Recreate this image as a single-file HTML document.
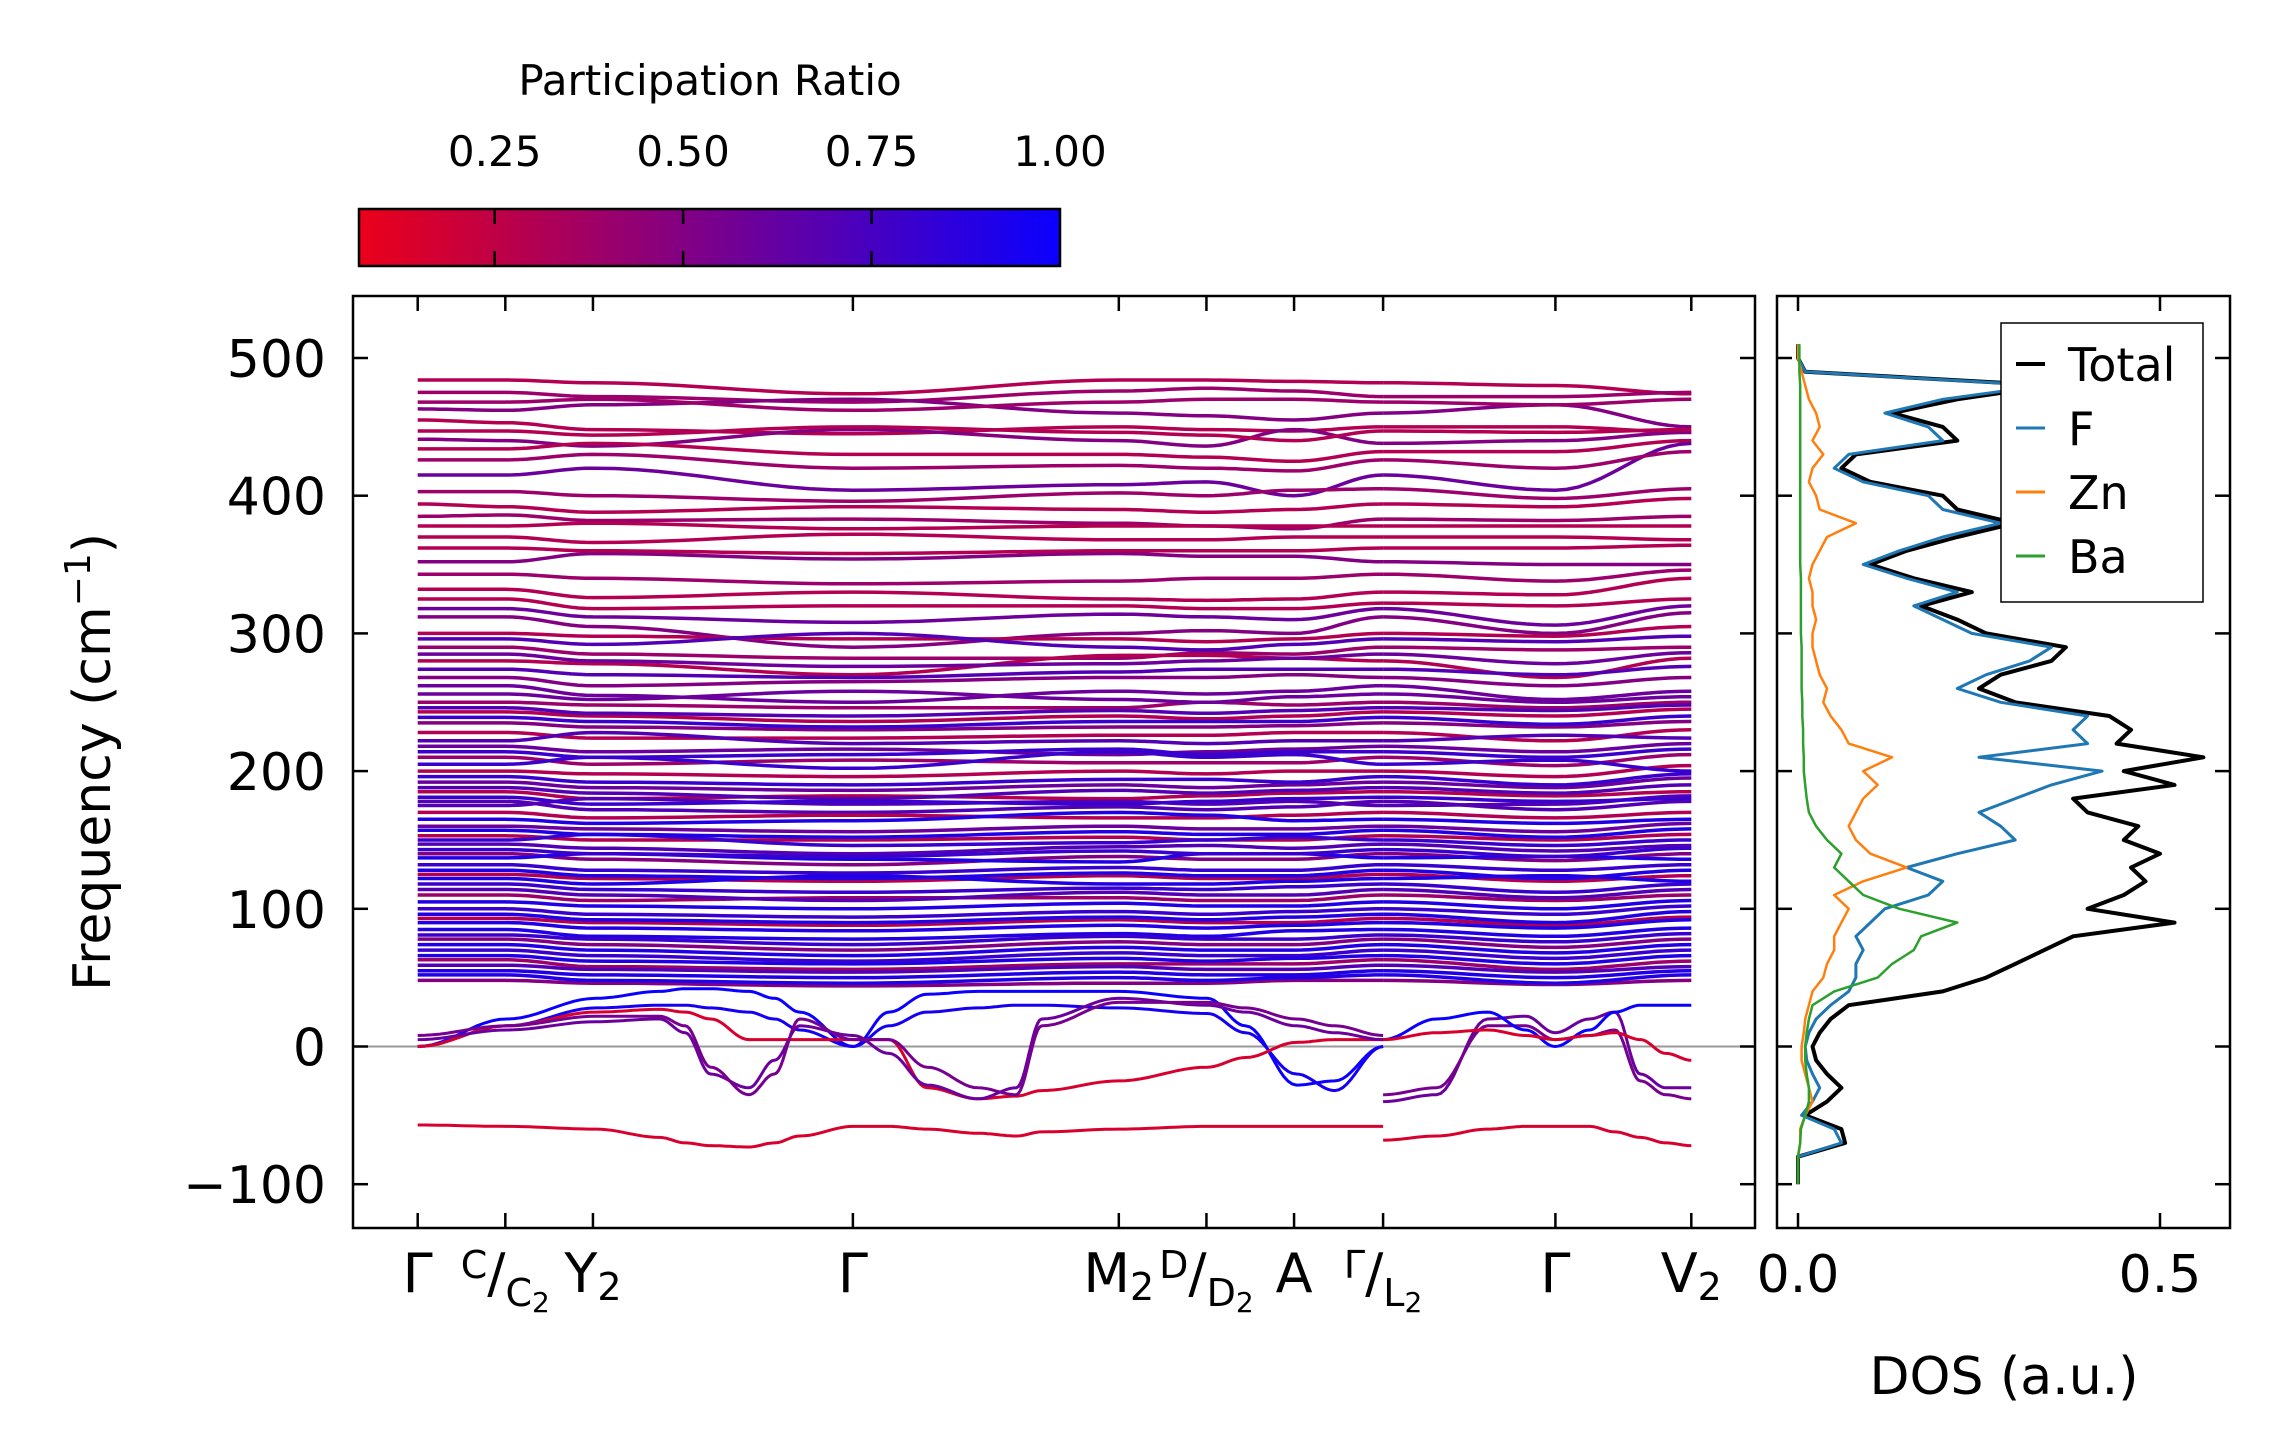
<!DOCTYPE html>
<html><head><meta charset="utf-8"><style>
html,body{margin:0;padding:0;background:#fff;}
svg{display:block;font-family:"DejaVu Sans","Liberation Sans",sans-serif;}
</style></head><body>
<svg id="fig" width="2271" height="1455" viewBox="0 0 2271 1455" xmlns="http://www.w3.org/2000/svg">
<defs>
<linearGradient id="cbgrad" x1="0" x2="1" y1="0" y2="0">
<stop offset="0" stop-color="rgb(235,0,25)"/>
<stop offset="0.5" stop-color="rgb(122,0,140)"/>
<stop offset="1" stop-color="rgb(10,0,255)"/>
</linearGradient>
<clipPath id="mainclip"><rect x="353" y="296" width="1402" height="932"/></clipPath>
<clipPath id="dosclip"><rect x="1777" y="296" width="453" height="932"/></clipPath>
</defs>
<g id="bands" clip-path="url(#mainclip)"></g>
<g id="dos" clip-path="url(#dosclip)"></g>
<g id="axes"></g>
</svg>
<script>
const kNodes = [0, 0.0688, 0.1376, 0.3417, 0.5505, 0.6193, 0.6881, 0.7580, 0.8933, 1.0];
const kLabels = ["Γ", "C/C2", "Y2", "Γ", "M2", "D/D2", "A", "Γ/L2", "Γ", "V2"];
const yTicks = [-100, 0, 100, 200, 300, 400, 500];
const cbTicks = [0.25, 0.50, 0.75, 1.00];
const cbTickLabels = ["0.25", "0.50", "0.75", "1.00"];
const bandPR = [0.3,0.4,0.5,0.3,0.5,0.3,0.6,0.4,0.3,0.4,0.3,0.3,0.5,0.3,0.3,0.5,0.3,0.4,0.3,0.5,0.6,0.4,0.3,0.5,0.3,0.6,0.4,0.3,0.6,0.3,0.7,0.3,0.6,0.3,0.7,0.5,0.8,0.3,0.8,0.4,0.8,0.3,0.9,0.5,0.8,0.4,0.9,0.5,0.7,0.8,0.7,0.9,0.8,0.9,0.9,0.9,0.9,0.9,
0.6,0.7,0.6,0.7,0.6,0.7,0.8,0.8,0.8,0.7,0.8,0.9,0.8,0.9,0.7,0.9,0.8,0.9,0.7,0.9,0.4,0.3,0.4,0.3,0.4];
const bandFreq = [
[484,484,482,474,484,484,483,482,480,474],
[475,475,472,468,476,478,476,472,472,475],
[463,462,466,470,460,458,455,460,466,450],
[455,453,448,445,450,448,447,450,450,446],
[441,440,436,448,440,436,448,438,440,446],
[434,434,438,430,430,428,425,432,432,440],
[415,415,420,404,408,410,400,415,404,438],
[403,403,400,396,402,400,404,405,398,405],
[394,392,388,392,390,388,390,394,392,398],
[385,386,382,383,380,378,376,383,382,385],
[378,378,380,376,378,378,378,378,378,378],
[370,370,366,372,368,368,370,370,370,368],
[352,352,358,354,358,356,356,352,350,350],
[332,332,326,330,325,324,325,330,328,340],
[325,325,318,320,320,318,318,322,320,325],
[312,312,305,290,300,302,300,312,300,315],
[300,300,298,296,296,294,296,300,298,305],
[290,290,285,282,282,286,285,290,288,290],
[280,280,278,270,284,284,282,280,268,282],
[268,268,262,265,268,268,270,268,262,268],
[262,262,255,250,258,256,258,262,252,258],
[250,250,248,246,246,250,248,250,246,250],
[243,243,240,236,240,238,240,243,240,245],
[235,235,232,230,232,232,233,235,232,236],
[228,228,224,224,226,226,228,228,222,230],
[218,218,214,216,212,214,216,218,214,220],
[210,210,205,208,206,206,206,210,204,212],
[200,200,198,196,200,198,200,200,196,204],
[192,192,188,186,190,188,190,192,188,195],
[185,185,180,182,180,182,184,185,182,185],
[178,178,172,170,174,172,174,178,172,178],
[170,170,166,168,166,166,168,170,166,170],
[160,160,158,156,160,158,158,160,156,162],
[153,153,150,150,152,150,150,153,150,154],
[147,147,144,140,145,146,144,147,142,146],
[140,140,136,132,138,136,136,140,135,140],
[132,132,128,126,130,128,128,132,128,132],
[125,125,122,120,124,122,122,125,120,124],
[118,118,114,112,115,114,116,118,112,118],
[110,110,106,108,108,106,106,110,106,110],
[100,100,96,94,98,96,98,100,96,102],
[93,93,90,88,92,90,90,93,88,94],
[85,85,80,78,82,80,84,85,80,86],
[78,78,74,70,76,74,74,78,72,78],
[70,70,66,62,68,66,66,70,64,70],
[63,63,58,56,60,60,60,63,56,62],
[55,55,52,50,54,52,52,55,50,55],
[48,48,46,44,46,46,48,48,45,48],
[222,222,228,220,222,220,222,222,226,224],
[205,205,210,202,214,210,212,205,208,200],
[175,175,180,176,178,176,178,175,176,182],
[165,165,162,164,170,168,164,165,162,165],
[150,150,154,146,148,150,152,150,146,150],
[137,137,140,136,134,140,140,137,138,136],
[122,122,118,124,118,118,120,122,124,120],
[105,105,102,100,104,102,102,105,100,106],
[90,90,86,84,88,86,88,90,86,92],
[74,74,70,66,72,70,70,74,68,74],
[318,318,312,308,314,312,310,318,306,320],
[296,296,292,300,290,288,292,296,294,298],
[285,285,280,276,278,280,282,285,278,286],
[274,274,270,268,272,274,274,274,270,276],
[256,256,252,258,252,250,254,256,250,254],
[246,246,242,240,244,242,244,246,244,248],
[239,239,236,232,236,236,236,239,234,240],
[214,214,210,212,216,212,214,214,210,216],
[196,196,192,190,194,194,192,196,190,198],
[188,188,184,180,186,184,186,188,184,190],
[181,181,176,178,176,178,180,181,178,180],
[157,157,154,152,156,154,154,157,152,158],
[143,143,140,138,142,140,140,143,138,144],
[128,128,124,122,126,124,124,128,122,128],
[114,114,110,106,112,110,110,114,108,114],
[96,96,92,90,94,92,94,96,90,98],
[81,81,78,74,80,78,78,81,76,82],
[66,66,62,60,64,62,64,66,60,66],
[59,59,56,54,58,56,56,59,54,58],
[52,52,48,46,50,48,50,52,46,52],
[343,343,340,336,338,340,340,343,338,346],
[362,362,360,358,360,360,360,362,362,364],
[426,426,430,420,422,420,418,426,420,432],
[447,447,444,450,446,444,440,447,446,448],
[468,468,470,462,468,470,470,468,466,470]
];
const lowK1 = [0,0.07,0.14,0.19,0.21,0.23,0.26,0.28,0.30,0.342,0.37,0.40,0.44,0.47,0.49,0.55,0.62,0.65,0.69,0.72,0.758];
const lowPR1 = [1.0, 0.95, 0.15, 0.6, 0.55, 0.15];
const lowFreq1 = [
[0,20,35,40,42,42,40,35,25,0,25,38,40,40,40,40,35,15,-28,-25,0],
[0,15,28,30,30,28,25,20,12,0,15,25,28,30,30,28,24,10,-20,-32,0],
[0,15,25,27,25,20,5,5,5,5,5,-30,-38,-36,-32,-25,-15,-8,3,5,5],
[5,12,18,20,10,-20,-30,-10,15,8,-5,-28,-38,-30,20,35,30,25,15,10,5],
[8,15,22,22,15,-15,-35,-20,20,5,5,-15,-30,-35,15,32,32,28,20,15,8],
[-57,-58,-60,-66,-70,-72,-73,-70,-65,-58,-58,-60,-63,-65,-62,-60,-58,-58,-58,-58,-58]
];
const lowK2 = [0.758,0.80,0.84,0.87,0.893,0.92,0.94,0.96,0.98,1.0];
const lowPR2 = [0.15, 0.6, 0.55, 1.0, 0.15];
const lowFreq2 = [
[-68,-65,-60,-58,-58,-58,-62,-66,-70,-72],
[-40,-35,20,22,10,20,25,-20,-30,-30],
[-35,-30,15,15,5,8,12,-25,-35,-38],
[5,20,25,12,0,12,25,30,30,30],
[5,10,12,8,5,8,10,5,-5,-10]
];
const dosFreq = [-100,-90,-80,-70,-60,-50,-40,-30,-20,-10,0,10,20,30,40,50,60,70,80,90,100,110,120,130,140,150,160,170,180,190,200,210,220,230,240,250,260,270,280,290,300,310,320,330,340,350,360,370,380,390,400,410,420,430,440,450,460,470,480,490,500,510];
const dosTotal = [0,0,0,0.065,0.06,0.01,0.04,0.06,0.04,0.025,0.02,0.03,0.045,0.07,0.2,0.26,0.3,0.34,0.38,0.52,0.4,0.45,0.48,0.46,0.5,0.45,0.47,0.4,0.38,0.52,0.45,0.56,0.44,0.46,0.43,0.3,0.25,0.28,0.35,0.37,0.26,0.22,0.17,0.24,0.16,0.1,0.15,0.22,0.3,0.22,0.2,0.1,0.06,0.08,0.22,0.2,0.13,0.22,0.35,0.01,0,0];
const dosF = [0,0,0,0.06,0.05,0.005,0.02,0.03,0.02,0.012,0.01,0.015,0.025,0.045,0.07,0.08,0.08,0.09,0.08,0.1,0.12,0.18,0.2,0.15,0.22,0.3,0.28,0.25,0.3,0.35,0.42,0.25,0.4,0.38,0.4,0.28,0.22,0.26,0.32,0.35,0.24,0.2,0.16,0.22,0.15,0.09,0.14,0.2,0.28,0.2,0.18,0.09,0.05,0.07,0.2,0.18,0.12,0.2,0.34,0.01,0,0];
const dosZn = [0,0,0,0.003,0.003,0.01,0.02,0.015,0.01,0.005,0.005,0.008,0.01,0.015,0.02,0.035,0.04,0.05,0.05,0.06,0.07,0.05,0.09,0.15,0.1,0.08,0.07,0.08,0.09,0.11,0.09,0.13,0.07,0.06,0.045,0.035,0.04,0.03,0.025,0.02,0.02,0.025,0.02,0.02,0.015,0.02,0.03,0.04,0.08,0.03,0.025,0.015,0.02,0.035,0.02,0.03,0.025,0.015,0.01,0.005,0,0];
const dosBa = [0,0,0,0.003,0.004,0.01,0.015,0.015,0.012,0.01,0.01,0.012,0.015,0.02,0.05,0.11,0.13,0.16,0.17,0.22,0.14,0.09,0.07,0.05,0.06,0.04,0.025,0.015,0.012,0.01,0.008,0.008,0.007,0.007,0.006,0.006,0.005,0.005,0.005,0.005,0.004,0.004,0.004,0.004,0.004,0.003,0.003,0.003,0.003,0.003,0.003,0.003,0.003,0.003,0.003,0.003,0.003,0.003,0.003,0.002,0.002,0.002];
const legendLabels = ["Total", "F", "Zn", "Ba"];
const legendColors = ["#000000", "#1f77b4", "#ff7f0e", "#2ca02c"];

const X = k => 417.7 + k * 1273.6;
const Y = f => 1046.5 - f * 1.377;
const DX = v => 1798 + v * 724;
const CBX = p => 359 + (p - 0.07) / 0.93 * 701;
const NS = "http://www.w3.org/2000/svg";
function prColor(p) {
  const t = Math.max(0, Math.min(1, (p - 0.07) / 0.93));
  return `rgb(${Math.round(235 - 225 * t)},0,${Math.round(25 + 230 * t)})`;
}
function mk(tag, attrs, parent) {
  const e = document.createElementNS(NS, tag);
  for (const a in attrs) e.setAttribute(a, attrs[a]);
  parent.appendChild(e);
  return e;
}
function smoothPath(ks, vs) {
  let d = `M${X(ks[0]).toFixed(1)},${Y(vs[0]).toFixed(1)}`;
  for (let i = 0; i < ks.length - 1; i++) {
    for (let s = 1; s <= 12; s++) {
      const t = s / 12, w = (1 - Math.cos(Math.PI * t)) / 2;
      const k = ks[i] + (ks[i + 1] - ks[i]) * t;
      const v = vs[i] + (vs[i + 1] - vs[i]) * w;
      d += `L${X(k).toFixed(1)},${Y(v).toFixed(1)}`;
    }
  }
  return d;
}
const bandsG = document.getElementById('bands');
const dosG = document.getElementById('dos');
const ax = document.getElementById('axes');

const zl = mk('line', {x1: 353, x2: 1755, y1: Y(0), y2: Y(0), stroke: '#999', 'stroke-width': 2}, bandsG);



bandFreq.forEach((row, i) => {
  const c = prColor(bandPR[i]);
  const p1 = mk('path', {d: smoothPath(kNodes.slice(0, 8), row.slice(0, 8)), fill: 'none', stroke: c, 'stroke-width': 3.5}, bandsG);
  
  
  const p2 = mk('path', {d: smoothPath(kNodes.slice(7), row.slice(7)), fill: 'none', stroke: c, 'stroke-width': 3.5}, bandsG);
  
  
});
lowFreq1.forEach((row, i) => {
  const p = mk('path', {d: smoothPath(lowK1, row), fill: 'none', stroke: prColor(lowPR1[i]), 'stroke-width': 3}, bandsG);
  
  
});
lowFreq2.forEach((row, i) => {
  const p = mk('path', {d: smoothPath(lowK2, row), fill: 'none', stroke: prColor(lowPR2[i]), 'stroke-width': 3}, bandsG);
  
  
});

function dosPath(vals) {
  let d = '';
  vals.forEach((v, i) => {
    d += (i === 0 ? 'M' : 'L') + DX(v).toFixed(1) + ',' + Y(dosFreq[i]).toFixed(1);
  });
  return d;
}
[[dosTotal, 0, 4], [dosF, 1, 3], [dosZn, 2, 2.5], [dosBa, 3, 2.5]].forEach(([vals, ci, w]) => {
  const p = mk('path', {d: dosPath(vals), fill: 'none', stroke: legendColors[ci], 'stroke-width': w, 'stroke-linejoin': 'round'}, dosG);
  
  
});

const f1 = mk('rect', {x: 353, y: 296, width: 1402, height: 932, fill: 'none', stroke: '#000', 'stroke-width': 2.5}, ax);


const f2 = mk('rect', {x: 1777, y: 296, width: 453, height: 932, fill: 'none', stroke: '#000', 'stroke-width': 2.5}, ax);



yTicks.forEach(v => {
  const y = Y(v);
  [[353, 368], [1740, 1755], [1777, 1792], [2215, 2230]].forEach(([a, b]) => {
    const t = mk('line', {x1: a, x2: b, y1: y, y2: y, stroke: '#000', 'stroke-width': 2.5}, ax);
    
    
  });
  const tx = mk('text', {x: 326, y: y + 19, 'text-anchor': 'end', 'font-size': 52}, ax);
  tx.textContent = v < 0 ? '\u2212' + Math.abs(v) : String(v);
  
  
});
kNodes.forEach(k => {
  const x = X(k);
  [[1228, 1213], [296, 311]].forEach(([a, b]) => {
    const t = mk('line', {x1: x, x2: x, y1: a, y2: b, stroke: '#000', 'stroke-width': 2.5}, ax);
    
    
  });
});
function kLabel(i) {
  const lab = kLabels[i];
  const x = X(kNodes[i]);
  const t = mk('text', {x: x, y: 1292, 'text-anchor': 'middle', 'font-size': 54}, ax);
  
  
  if (lab.includes('/')) {
    const [a, b] = lab.split('/');
    const s1 = mk('tspan', {'font-size': 38, dy: -14}, t); s1.textContent = a;
    const s2 = mk('tspan', {'font-size': 54, dy: 14}, t); s2.textContent = '/';
    const s3 = mk('tspan', {'font-size': 38, dy: 14}, t); s3.textContent = b[0];
    const s4 = mk('tspan', {'font-size': 28, dy: 6}, t); s4.textContent = b.slice(1);
  } else if (lab.length > 1) {
    const s1 = mk('tspan', {}, t); s1.textContent = lab[0];
    const s2 = mk('tspan', {'font-size': 38, dy: 8}, t); s2.textContent = lab.slice(1);
  } else t.textContent = lab;
}
kLabels.forEach((_, i) => kLabel(i));

[[0, '0.0'], [0.5, '0.5']].forEach(([v, s]) => {
  const x = DX(v);
  [[1228, 1213], [296, 311]].forEach(([a, b]) => {
    const t = mk('line', {x1: x, x2: x, y1: a, y2: b, stroke: '#000', 'stroke-width': 2.5}, ax);
    
    
  });
  const tx = mk('text', {x: x, y: 1292, 'text-anchor': 'middle', 'font-size': 52}, ax);
  tx.textContent = s;
  
  
});

const yt = mk('text', {x: 0, y: 0, 'text-anchor': 'middle', 'font-size': 52, transform: 'translate(110,762) rotate(-90)'}, ax);


const yt1 = mk('tspan', {}, yt); yt1.textContent = 'Frequency (cm';
const yt2 = mk('tspan', {'font-size': 36, dy: -20}, yt); yt2.textContent = '\u22121';
const yt3 = mk('tspan', {dy: 20}, yt); yt3.textContent = ')';
const xt = mk('text', {x: 2004, y: 1394, 'text-anchor': 'middle', 'font-size': 52}, ax);
xt.textContent = 'DOS (a.u.)';



const lg = mk('g', {}, ax);


mk('rect', {x: 2001, y: 323, width: 202, height: 279, fill: '#fff', stroke: '#000', 'stroke-width': 1.5}, lg);
legendLabels.forEach((l, i) => {
  const y = 364 + i * 64;
  const e = mk('g', {}, lg);
  
  
  mk('line', {x1: 2016, x2: 2045, y1: y, y2: y, stroke: legendColors[i], 'stroke-width': i === 0 ? 4 : 3}, e);
  const t = mk('text', {x: 2068, y: y + 17, 'font-size': 46}, e);
  t.textContent = l;
});

const cb = mk('g', {}, ax);


mk('rect', {x: 359, y: 209, width: 701, height: 57, fill: 'url(#cbgrad)', stroke: '#000', 'stroke-width': 2.5}, cb);
cbTicks.forEach((v, i) => {
  const x = CBX(v);
  if (v < 1) {
    mk('line', {x1: x, x2: x, y1: 209, y2: 224, stroke: '#000', 'stroke-width': 2.5}, cb);
    mk('line', {x1: x, x2: x, y1: 251, y2: 266, stroke: '#000', 'stroke-width': 2.5}, cb);
  }
  const t = mk('text', {x: x, y: 166, 'text-anchor': 'middle', 'font-size': 42}, cb);
  t.textContent = cbTickLabels[i];
  
  
});
const ct = mk('text', {x: 710, y: 95, 'text-anchor': 'middle', 'font-size': 42}, cb);
ct.textContent = 'Participation Ratio';


</script>
</body></html>
